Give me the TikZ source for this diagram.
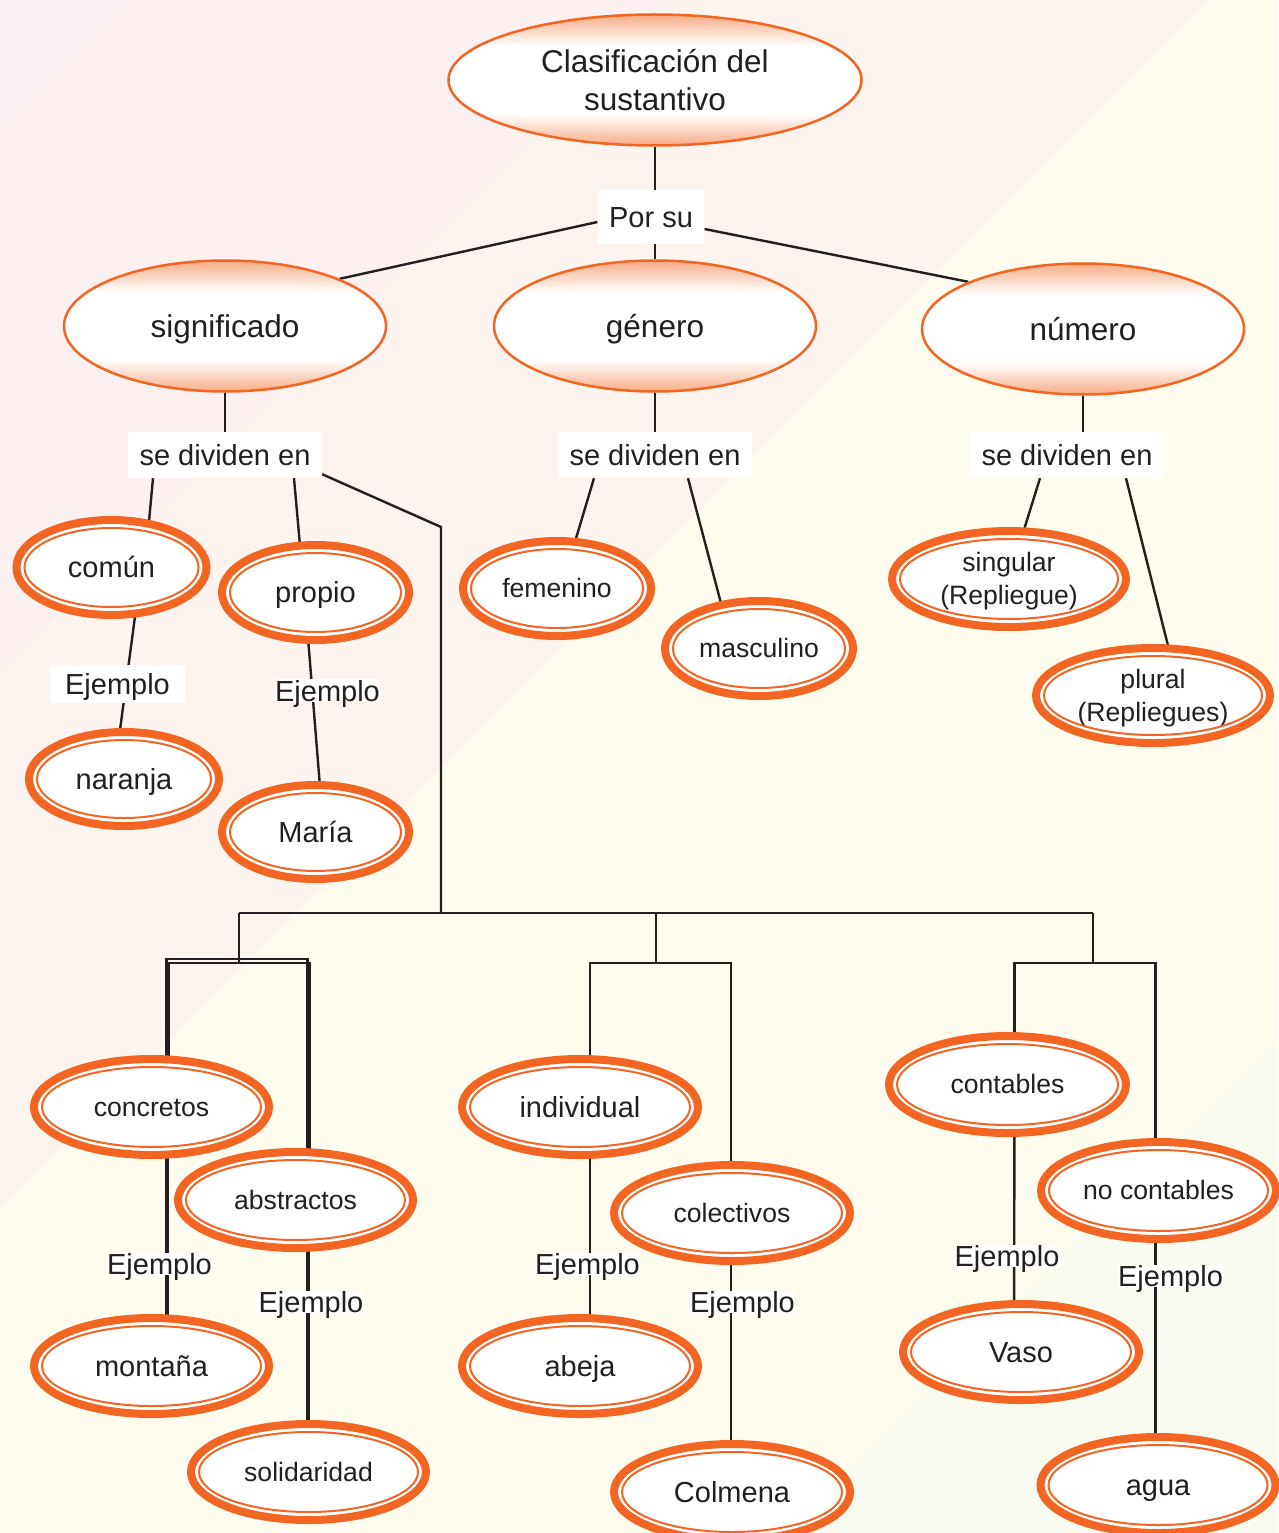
\documentclass[tikz,border=0pt]{standalone}
\usepackage{fontspec}
\setmainfont{Liberation Sans}
\usetikzlibrary{shapes.geometric,calc}
\definecolor{orng}{RGB}{242,101,34}
\definecolor{pk}{RGB}{248,172,134}
\definecolor{lnk}{RGB}{35,31,32}
\definecolor{txt}{RGB}{35,31,32}
\definecolor{bgA}{RGB}{251,240,244}
\definecolor{bgB}{RGB}{252,240,240}
\definecolor{bgC}{RGB}{253,244,239}
\definecolor{bgD}{RGB}{254,252,239}
\definecolor{bgE}{RGB}{249,251,240}
\pgfdeclarelayer{bg}
\pgfdeclarelayer{edges}
\pgfsetlayers{bg,edges,main}
\pgfdeclareverticalshading{ovalshade}{100bp}{color(0bp)=(pk); color(25bp)=(pk); color(37bp)=(white); color(63bp)=(white); color(75bp)=(pk); color(100bp)=(pk)}
\tikzset{
  ovalbase/.style={ellipse, draw=orng, line width=2.5pt, shade, shading=ovalshade, inner sep=0pt, text=txt, align=center},
  titleell/.style={ovalbase, font=\fontsize{31.5}{38}\selectfont},
  topell/.style={ovalbase, font=\fontsize{31.5}{38}\selectfont, text height=25.2pt, text depth=3.2pt},
  dbl/.style={ellipse, draw=orng, line width=8pt, fill=white, inner sep=0pt, text=txt, align=center},
  szA/.style={font=\fontsize{29}{33}\selectfont, text height=23.2pt, text depth=2.9pt},
  szB/.style={font=\fontsize{26.6}{33}\selectfont, text height=21.3pt, text depth=2.7pt},
  szBB/.style={font=\fontsize{26.6}{33}\selectfont, text height=54.3pt, text depth=2.7pt},
  lab/.style={fill=white, inner ysep=0pt, inner xsep=11.5pt, text=txt, szA},
  tight/.style={fill=white, inner sep=0.5pt, text depth=0pt, anchor=base, text=txt, font=\fontsize{29}{34}\selectfont},
  conn/.style={draw=lnk, line width=2.4pt},
  thk/.style={draw=lnk, line width=3.5pt}
}
\newcommand\dell[6]{%
  \node[dbl, minimum width=2*#3, minimum height=2*#4, #5] (#1) at (#2) {#6};
  \draw[orng, line width=2pt] (#1.center) ellipse [x radius=#3-8, y radius=#4-8];
}
\begin{document}
\begin{tikzpicture}[x=1pt,y=-1pt]
\useasboundingbox (0,0) rectangle (1278,1533);
\begin{pgfonlayer}{bg}
  \fill[bgD] (0,0) rectangle (1278,1533);
  \fill[bgC] (0,0) -- (1210,0) -- (0,1210) -- cycle;
  \fill[bgB] (0,0) -- (670,0) -- (0,670) -- cycle;
  \fill[bgA] (0,0) -- (130,0) -- (0,130) -- cycle;
  \fill[bgE] (1278,1042) -- (1278,1533) -- (787,1533) -- cycle;
\end{pgfonlayer}

% top level
\node[titleell, minimum width=413, minimum height=131] (title) at (655,80) {Clasificación del\\sustantivo};
\node[lab, minimum height=54] (porsu) at (651,217) {Por su};
\node[topell, minimum width=322, minimum height=131] (sig) at (225,326) {significado};
\node[topell, minimum width=322, minimum height=131] (gen) at (655,326) {género};
\node[topell, minimum width=322, minimum height=131] (num) at (1083,329) {número};

\node[lab, minimum height=46] (sigdiv) at (225,455) {se dividen en};
\node[lab, minimum height=46] (gendiv) at (655,455) {se dividen en};
\node[lab, minimum height=46] (numdiv) at (1067,455) {se dividen en};

% significado branch
\dell{comun}{111.5,567.5}{95}{47.5}{szA}{común}
\dell{propio}{315.5,592.5}{93.5}{47.5}{szA}{propio}
\node[lab, inner xsep=0pt, minimum width=135, minimum height=38] (ej1) at (117.5,684) {Ejemplo};
\node[tight] (ej2) at (327.5,701) {Ejemplo};
\dell{naranja}{124,779}{95}{47}{szA}{naranja}
\dell{maria}{315.5,832}{93.5}{47}{szA}{María}

% genero branch
\dell{fem}{557,588.5}{94}{47.5}{szB}{femenino}
\dell{masc}{759,648.5}{94}{47.5}{szB}{masculino}

% numero branch
\dell{sing}{1009,579}{117}{48}{szBB}{singular\\(Repliegue)}
\dell{plur}{1153,695.5}{117}{47.5}{szBB}{plural\\(Repliegues)}

% lower groups
\dell{conc}{151.5,1107}{117.5}{48}{szB}{concretos}
\dell{abst}{295.5,1200}{117.5}{48}{szB}{abstractos}
\dell{mont}{151.5,1366}{117.5}{48}{szA}{montaña}
\dell{sol}{308.5,1472}{117.5}{48}{szB}{solidaridad}
\dell{indiv}{580,1107}{118}{48}{szA}{individual}
\dell{colec}{732,1213}{118}{48}{szB}{colectivos}
\dell{abeja}{580,1366}{118}{48}{szA}{abeja}
\dell{colm}{732,1492}{118}{48}{szA}{Colmena}
\dell{cont}{1007.5,1084.5}{118.5}{48.5}{szB}{contables}
\dell{nocont}{1158.5,1190.5}{117.5}{48.5}{szB}{no contables}
\dell{vaso}{1021,1352}{118}{48}{szA}{Vaso}
\dell{agua}{1158,1485}{117.5}{48}{szA}{agua}

\node[tight] (ej3) at (159.5,1274) {Ejemplo};
\node[tight] (ej4) at (311,1312) {Ejemplo};
\node[tight] (ej5) at (587.5,1274) {Ejemplo};
\node[tight] (ej6) at (742.5,1312) {Ejemplo};
\node[tight] (ej7) at (1007,1266) {Ejemplo};
\node[tight] (ej8) at (1170.5,1286) {Ejemplo};

\coordinate (bend) at (441,527);
\coordinate (hub) at (441,913);
\coordinate (b1) at (239,913);
\coordinate (b1d) at (239,963);
\coordinate (b2) at (656,913);
\coordinate (b2d) at (656,963);
\coordinate (b3) at (1093,913);
\coordinate (b3d) at (1093,963);
\coordinate (g1a) at (239,959);

\begin{pgfonlayer}{edges}
  \draw[conn] (title) -- (gen);
  \draw[conn] ($(porsu.west)+(0,5)$) -- (sig.north east);
  \draw[conn] ($(porsu.east)+(0,12)$) -- (num.north west);
  \draw[conn] (sig) -- (sigdiv);
  \draw[conn] (gen) -- (gendiv);
  \draw[conn] (num) -- (num |- numdiv);
  % significado
  \draw[conn] ($(sigdiv.south)+(-72,0)$) -- ($(comun.center)+(36,-30)$);
  \draw[conn] ($(sigdiv.south)+(69,0)$) -- ($(propio.center)+(-14,-30)$);
  \draw[conn] ($(comun.center)+(26,30)$) -- ($(naranja.center)+(-6.5,-30)$);
  \draw[conn] ($(propio.center)+(-8.7,30)$) -- ($(maria.center)+(5.7,-30)$);
  \draw[conn] ($(sigdiv.south east)+(0,-4)$) -- (bend) -- (hub);
  \draw[conn] (b1) -- (b3);
  \draw[conn] (b1) -- (b1d);
  \draw[conn] (b2) -- (b2d);
  \draw[conn] (b3) -- (b3d);
  % genero
  \draw[conn] ($(gendiv.south)+(-61,0)$) -- ($(fem.center)+(13,-30)$);
  \draw[conn] ($(gendiv.south)+(33,0)$) -- ($(masc.center)+(-34,-30)$);
  % numero
  \draw[conn] ($(numdiv.south)+(-27,0)$) -- ($(sing.center)+(9,-30)$);
  \draw[conn] ($(numdiv.south)+(59,0)$) -- ($(plur.center)+(20,-30)$);
  % group 1
  \draw[conn] ($(conc.center)+(15,0)$) |- (g1a) -| ($(abst.center)+(12,0)$);
  \draw[conn] ($(conc.center)+(17,0)$) |- (b1d) -| ($(abst.center)+(14,0)$);
  \draw[thk] ($(conc.center)+(15.5,0)$) -- ($(mont.center)+(15.5,0)$);
  \draw[thk] ($(abst.center)+(12.5,0)$) -- ($(sol.center)+(-0.5,0)$);
  % group 2
  \draw[conn] ($(indiv.center)+(10,0)$) |- (b2d) -| ($(colec.center)+(-1,0)$);
  \draw[conn] ($(indiv.center)+(10,0)$) -- ($(abeja.center)+(10,0)$);
  \draw[conn] ($(colec.center)+(-1,0)$) -- ($(colm.center)+(-1,0)$);
  % group 3
  \draw[conn] ($(cont.center)+(7,0)$) |- (b3d) -| ($(nocont.center)+(-3,0)$);
  \draw[conn] ($(cont.center)+(7,0)$) -- ($(vaso.center)+(-7,0)$);
  \draw[conn] ($(nocont.center)+(-3,0)$) -- ($(agua.center)+(-2.5,0)$);
\end{pgfonlayer}
\end{tikzpicture}
\end{document}
